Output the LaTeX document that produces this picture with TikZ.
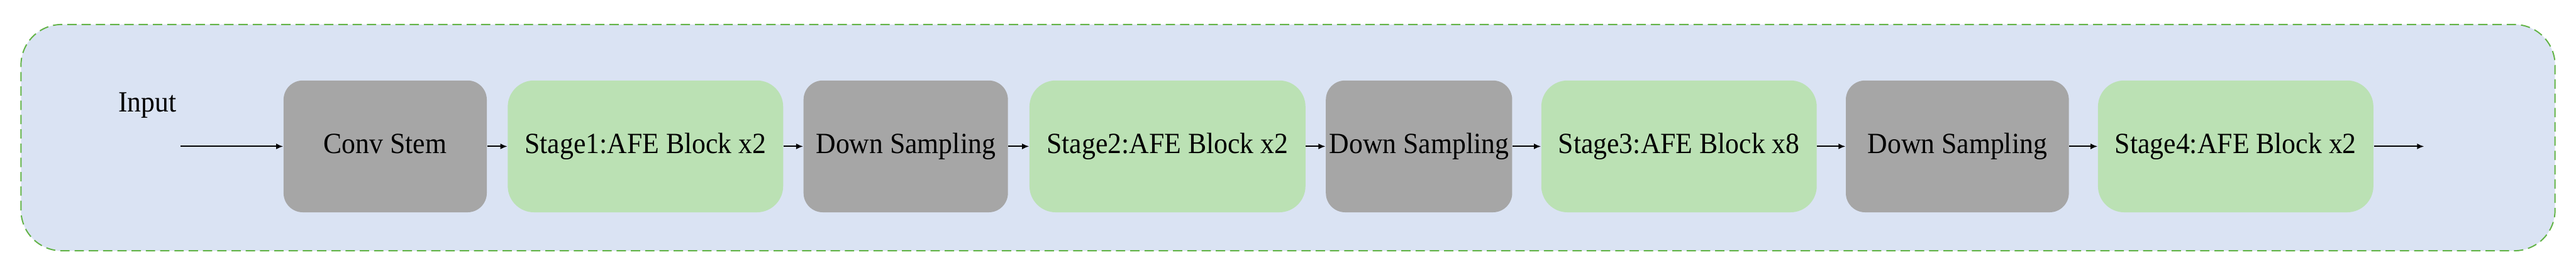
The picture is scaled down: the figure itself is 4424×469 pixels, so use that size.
\documentclass[tikz,border=0pt]{standalone}
\usepackage{fontspec}
\setmainfont{Liberation Serif}[FakeStretch=0.94]
\usetikzlibrary{arrows.meta,positioning}
\definecolor{panel}{HTML}{DAE3F3}
\definecolor{edge}{HTML}{62B346}
\definecolor{stage}{HTML}{BBE1B4}
\definecolor{conv}{HTML}{A6A6A6}

\begin{document}
\begin{tikzpicture}[x=0.1mm,y=0.1mm,
    lbl/.style={inner sep=0pt, font=\fontsize{14.3}{17}\selectfont, text height=0.66em, text depth=0pt},
    blk/.style={lbl, minimum height=22.6mm},
    flow/.style={-{Latex[length=1.2mm,width=1mm]}, line width=0.6pt}]
  \useasboundingbox (0,0) rectangle (4424,469);
  \draw[edge, fill=panel, line width=0.6pt, dash pattern=on 1.6mm off 0.85mm, rounded corners=7mm]
    (36,39) rectangle (4388,427);
  \node[lbl] (input) at (253,289) {Input};
  % blocks: index / centre x / width (mm) / fill / corner / text
  \foreach \k/\x/\w/\c/\r/\l in {1/661.5/34.9/conv/3.3/Conv Stem, 2/1108.5/47.3/stage/4.5/Stage1:AFE Block x2,
                              3/1555.5/35.1/conv/3.3/Down Sampling, 4/2005/47.4/stage/4.5/Stage2:AFE Block x2,
                              5/2437/32.0/conv/3.3/Down Sampling, 6/2883.5/47.3/stage/4.5/Stage3:AFE Block x8,
                              7/3361.5/38.3/conv/3.3/Down Sampling, 8/3839.5/47.3/stage/4.5/Stage4:AFE Block x2}
    { \node[blk, fill=\c, rounded corners=\r mm, minimum width=\w mm] (b\k) at (\x,218) {\l}; }
  \coordinate (in) at (310,218);
  \coordinate (out) at (4163,218);
  \draw[flow] (in) -- (b1);
  \foreach \a/\b in {1/2,2/3,3/4,4/5,5/6,6/7,7/8}
    \draw[flow] (b\a) -- (b\b);
  \draw[flow] (b8) -- (out);
\end{tikzpicture}
\end{document}
